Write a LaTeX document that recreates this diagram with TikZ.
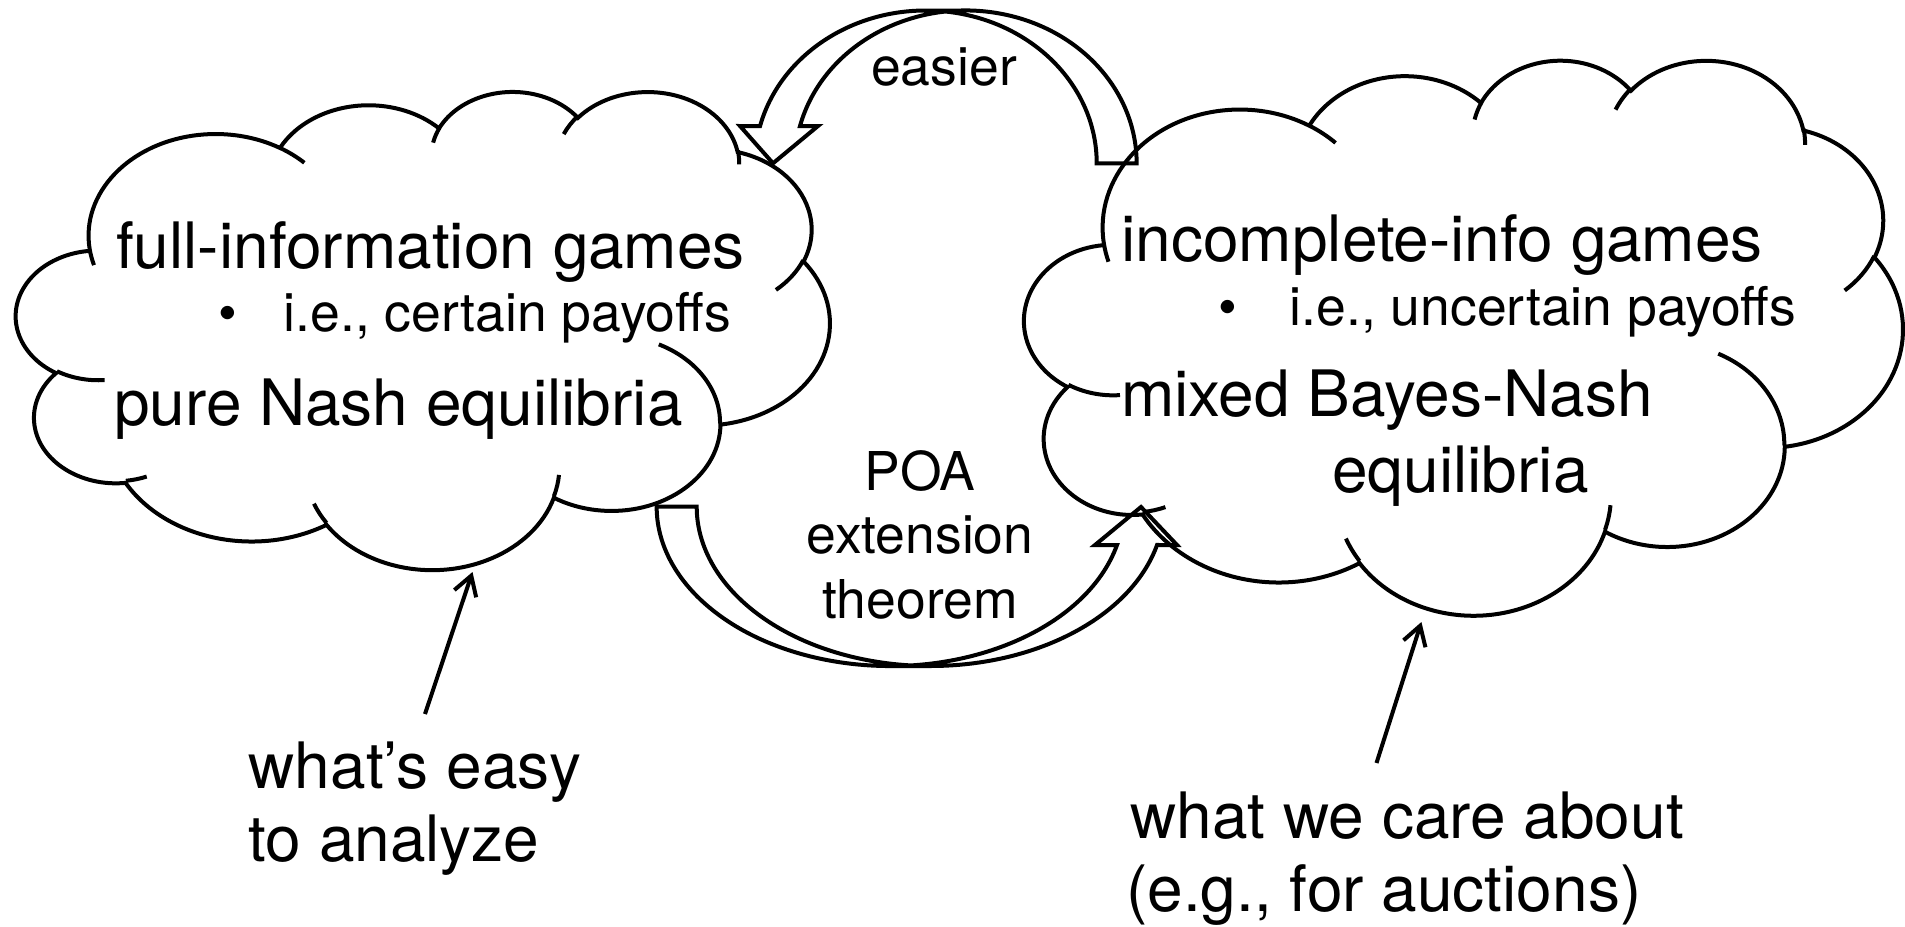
\documentclass[tikz,border=0pt]{standalone}
\usepackage{fontspec}
\setmainfont{TeX Gyre Heros}
\usetikzlibrary{arrows.meta}
% one elliptical arc of the cloud outline (OOXML arcTo: wR hR stAng swAng, visual angles)
\newcommand\cldArc[4]{%
  \pgfmathsetmacro\cldTs{vpar(#3,#1,#2)}%
  \pgfmathsetmacro\cldTe{vpar(#3+#4,#1,#2)}%
  \pgfpatharcaxes{\cldTs}{\cldTe}{\pgfpointxy{#1}{0}}{\pgfpointxy{0}{#2}}%
}
\newcommand\cldMove[2]{\pgfpathmoveto{\pgfpointxy{#1}{#2}}}
\newcommand\cloudshape{%
  \cldMove{3.900}{14.370}%
  \cldArc{6.753}{9.190}{-190.48748}{123.78053}%
  \cldArc{5.333}{7.267}{-144.10238}{89.94523}%
  \cldArc{4.365}{5.945}{-145.80792}{99.72302}%
  \cldArc{4.857}{6.595}{-130.98607}{117.24173}%
  \cldArc{5.333}{7.273}{-78.70888}{109.02692}%
  \cldArc{6.775}{9.220}{-46.26725}{130.26900}%
  \cldArc{5.785}{7.867}{0.62502}{114.03333}%
  \cldArc{6.752}{9.215}{22.45160}{115.17255}%
  \cldArc{7.720}{10.543}{66.24263}{75.71102}%
  \cldArc{4.360}{5.918}{-274.94208}{146.73557}%
  \cldArc{4.345}{5.945}{-246.82850}{152.51885}%
  \pgfpathclose
  \cldMove{4.693}{26.177}\cldArc{4.345}{5.945}{86.74200}{26.42950}%
  \cldMove{6.928}{34.899}\cldArc{4.360}{5.918}{73.61047}{11.44747}%
  \cldMove{16.478}{39.090}\cldArc{6.752}{9.215}{137.62415}{14.08110}%
  \cldMove{28.827}{34.751}\cldArc{6.752}{9.215}{6.45327}{15.99835}%
  \cldMove{34.129}{22.954}\cldArc{5.785}{7.867}{-70.29235}{70.91737}%
  \cldMove{41.798}{15.354}\cldArc{5.333}{7.273}{30.31803}{27.75150}%
  \cldMove{38.324}{5.426}\cldArc{4.857}{6.595}{-13.74433}{14.85890}%
  \cldMove{29.078}{3.952}\cldArc{4.857}{6.595}{-149.18145}{18.19537}%
  \cldMove{22.141}{4.720}\cldArc{4.365}{5.945}{-163.49427}{17.68635}%
  \cldMove{14.000}{5.192}\cldArc{6.753}{9.190}{-66.70695}{12.31935}%
  \cldMove{4.127}{15.789}\cldArc{6.753}{9.190}{157.65435}{11.85817}%
  \pgfusepath{stroke}%
}
\tikzset{
  outline/.style={line width=4pt},
  bigtxt/.style={font=\fontsize{64}{73}\selectfont, inner sep=0pt, anchor=base west},
  smalltxt/.style={font=\fontsize{53.5}{63}\selectfont, inner sep=0pt, anchor=base west},
  midtxt/.style={font=\fontsize{53.5}{63}\selectfont, inner sep=0pt, anchor=base},
  pointer/.style={line width=4pt, -{Straight Barb[length=19pt,width=23pt]}},
}
\begin{document}
\begin{tikzpicture}[x=1pt, y=-1pt,
  declare function={vpar(\ang,\ra,\rb)=atan2(\ra*sin(\ang),\rb*cos(\ang))+360*round((\ang-atan2(\ra*sin(\ang),\rb*cos(\ang)))/360);}]
\useasboundingbox (0,0) rectangle (1905,926);

% clouds
\begin{scope}[shift={(16.3,90.4)}, x=18.826pt, y=-11.065pt, outline]
  \cloudshape
\end{scope}
\begin{scope}[shift={(1024.6,58.9)}, x=20.324pt, y=-12.843pt, outline]
  \cloudshape
\end{scope}

% curved arrow "easier" (from right cloud to left cloud)
\coordinate (eTopL) at (925.8,10.5);
\coordinate (eTopR) at (965.8,10.5);
\coordinate (eBarbL) at (740,126);
\coordinate (eTip) at (773,163.3);
\coordinate (eBarbR) at (818,126);
\coordinate (eInner) at (800,126);
\coordinate (eTailIn) at (1096.7,163.3);
\draw[outline] (eTopR) -- (eTopL)
  arc[start angle=-90, end angle=-165.88, x radius=170.9, y radius=152.8]
  -- (eBarbL) -- (eTip) -- (eBarbR) -- (eInner)
  arc[start angle=-165.88, end angle=0, x radius=170.9, y radius=152.8]
  -- (eTailIn)
  arc[start angle=0, end angle=-83.28, x radius=170.9, y radius=152.8];

% curved arrow "POA extension theorem" (from left cloud to right cloud)
\coordinate (pBotL) at (890.3,666);
\coordinate (pBotR) at (930.3,666);
\coordinate (pBarbR) at (1177,545);
\coordinate (pTip) at (1141,507);
\coordinate (pBarbL) at (1095,545);
\coordinate (pInner) at (1117,545);
\coordinate (pTailIn) at (696.7,506.7);
\draw[outline] (pBotL) -- (pBotR)
  arc[start angle=90, end angle=13.91, x radius=233.6, y radius=159.3]
  -- (pBarbR) -- (pTip) -- (pBarbL) -- (pInner)
  arc[start angle=13.91, end angle=180, x radius=233.6, y radius=159.3]
  -- (pTailIn)
  arc[start angle=180, end angle=94.91, x radius=233.6, y radius=159.3];

% cloud texts
\node[bigtxt] (fullinfo) at (116,268) {full-information games};
\node[midtxt] (bulA) at (228,331) {\textbullet};
\node[smalltxt] (certain) at (283.5,331) {i.e., certain payoffs};
\node[bigtxt] (pureNash) at (114,425) {pure Nash equilibria};
\node[bigtxt] (incomplete) at (1121,261) {incomplete-info games};
\node[midtxt] (bulB) at (1228,325) {\textbullet};
\node[smalltxt] (uncertain) at (1289.5,325) {i.e., uncertain payoffs};
\node[bigtxt] (mixed) at (1121,416) {mixed Bayes-Nash};
\node[bigtxt] (equil) at (1332,492) {equilibria};

% arrow labels
\node[midtxt] (easier) at (944,85) {easier};
\node[midtxt] (poa) at (920,490) {POA};
\node[midtxt] (ext) at (920,553) {extension};
\node[midtxt] (thm) at (920,618) {theorem};

% bottom notes
\node[bigtxt] (easy1) at (248.5,788) {what’s easy};
\node[bigtxt] (easy2) at (248.5,861) {to analyze};
\node[bigtxt] (care1) at (1130,838) {what we care about};
\node[bigtxt] (care2) at (1126,911) {(e.g., for auctions)};

% pointers
\coordinate (ptrA0) at (425,714);
\coordinate (ptrA1) at (472.5,572);
\draw[pointer] (ptrA0) -- (ptrA1);
\coordinate (ptrB0) at (1376.5,763);
\coordinate (ptrB1) at (1421.4,622);
\draw[pointer] (ptrB0) -- (ptrB1);
\end{tikzpicture}
\end{document}
